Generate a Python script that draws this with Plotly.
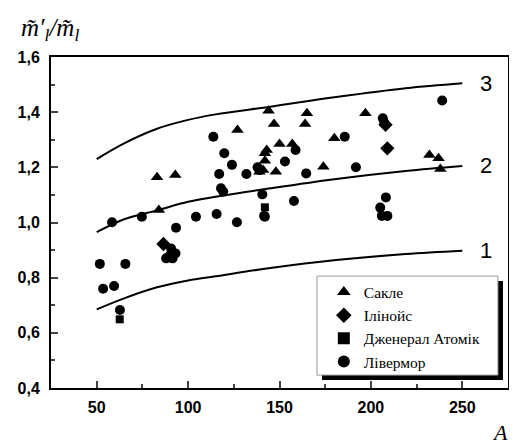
import plotly.graph_objects as go

# ---- data ----
saclay_A = [83, 93, 84, 127, 144, 147, 165, 164, 180, 197, 150, 157, 143, 142, 142, 141, 139, 148, 174, 232, 237, 238]
saclay_v = [1.164, 1.172, 1.045, 1.335, 1.405, 1.357, 1.396, 1.357, 1.305, 1.396, 1.285, 1.285, 1.263, 1.251, 1.224, 1.19, 1.184, 1.184, 1.202, 1.245, 1.233, 1.194]

illinois_A = [208, 209, 86.5]
illinois_v = [1.354, 1.269, 0.922]

ga_A = [62.6, 142]
ga_v = [0.649, 1.055]

livermore_A = [58.4, 74.7, 93.4, 51.7, 65.7, 53.5, 59.5, 62.7, 88, 90.7, 93.1, 90, 91.5,
               104.3, 115.6, 126.7, 142, 157.9, 113.8, 119.8, 124, 117, 131.9, 138, 139,
               153, 158.8, 164.6, 118, 119.2, 140.6, 141.6, 239, 206.5, 207.3, 185.7, 191.8,
               208.2, 205.1, 206, 209]
livermore_v = [1.001, 1.021, 0.981, 0.85, 0.85, 0.76, 0.77, 0.683, 0.87, 0.906, 0.888, 0.88, 0.87,
               1.021, 1.031, 1.001, 1.021, 1.078, 1.311, 1.251, 1.209, 1.176, 1.176, 1.2, 1.19,
               1.221, 1.263, 1.178, 1.124, 1.112, 1.102, 1.024, 1.442, 1.378, 1.362, 1.311, 1.2,
               1.091, 1.054, 1.024, 1.024]

curve_A = [50, 65, 83, 100, 115, 145, 181, 219, 250]
curve3 = [1.230, 1.287, 1.340, 1.372, 1.392, 1.420, 1.455, 1.487, 1.505]
curve2 = [0.965, 1.012, 1.044, 1.075, 1.093, 1.124, 1.158, 1.187, 1.205]
curve1 = [0.685, 0.725, 0.765, 0.790, 0.805, 0.835, 0.864, 0.886, 0.898]
curve_labels = ["3", "2", "1"]

x_ticks = [50, 100, 150, 200, 250]
y_ticks = [0.4, 0.6, 0.8, 1.0, 1.2, 1.4, 1.6]
y_ticktext = ["0,4", "0,6", "0,8", "1,0", "1,2", "1,4", "1,6"]

names = ["Сакле", "Ілінойс", "Дженерал Атомік", "Лівермор"]

SERIF = "Liberation Serif, Times New Roman, serif"
SANS = "Liberation Sans, Arial, sans-serif"

fig = go.Figure()

for cv in (curve3, curve2, curve1):
    fig.add_trace(go.Scatter(x=curve_A, y=cv, mode="lines", line=dict(color="black", width=2, shape="spline"),
                             showlegend=False, hoverinfo="skip"))

fig.add_trace(go.Scatter(x=saclay_A, y=saclay_v, mode="markers", name=names[0],
                         marker=dict(symbol="triangle-up", size=11, color="black")))
fig.add_trace(go.Scatter(x=illinois_A, y=illinois_v, mode="markers", name=names[1],
                         marker=dict(symbol="diamond", size=11, color="black")))
fig.add_trace(go.Scatter(x=ga_A, y=ga_v, mode="markers", name=names[2],
                         marker=dict(symbol="square", size=8, color="black")))
fig.add_trace(go.Scatter(x=livermore_A, y=livermore_v, mode="markers", name=names[3],
                         marker=dict(symbol="circle", size=10, color="black")))

# curve labels
for lab, cv in zip(curve_labels, (curve3, curve2, curve1)):
    fig.add_annotation(x=258.5, y=cv[-1], text=lab, showarrow=False, xanchor="left", yanchor="middle",
                       font=dict(family=SANS, size=22, color="black"))

# axis titles
fig.add_annotation(xref="paper", yref="paper", x=-0.07, y=1.03, xanchor="left", yanchor="bottom",
                   text="<i>m\u0303\u2032<sub>l</sub>/m\u0303<sub>l</sub></i>", showarrow=False,
                   font=dict(family=SERIF, size=25, color="black"))
fig.add_annotation(xref="paper", yref="paper", x=1.004, y=-0.09, xanchor="right", yanchor="top",
                   text="<i>A</i>", showarrow=False,
                   font=dict(family=SERIF, size=22, color="black"))

# legend shadow and box
fig.add_shape(type="rect", xref="paper", yref="paper", x0=0.593, x1=0.989, y0=0.024, y1=0.323,
              fillcolor="black", line=dict(width=0), layer="above")
fig.add_shape(type="rect", xref="paper", yref="paper", x0=0.582, x1=0.978, y0=0.039, y1=0.338,
              fillcolor="white", line=dict(width=1, color="#999999"), layer="above")

# page body has an 8px margin; figure sized so the plot area lands at x 51..510, y 57..388 of the page
fig.update_layout(
    width=509, height=436,
    margin=dict(l=43, r=7, t=49, b=56),
    paper_bgcolor="white", plot_bgcolor="white",
    showlegend=True,
    legend=dict(x=0.597, y=0.34, xanchor="left", yanchor="top", bgcolor="rgba(0,0,0,0)",
                borderwidth=0,
                font=dict(family=SERIF, size=15.5, color="black"),
                itemsizing="constant", tracegroupgap=0),
    xaxis=dict(range=[25, 275], tickvals=x_ticks, ticks="inside", ticklen=7, tickwidth=2,
               showline=True, linecolor="black", linewidth=2, mirror=True, showgrid=False, zeroline=False,
               ticklabelstandoff=4,
               tickfont=dict(family=SANS, size=16, color="black", weight="bold"),
               minor=dict(ticks="inside", ticklen=4, tickwidth=2, dtick=25, tick0=25, showgrid=False)),
    yaxis=dict(range=[0.4, 1.6], tickvals=y_ticks, ticktext=y_ticktext, ticks="inside", ticklen=7, tickwidth=2,
               showline=True, linecolor="black", linewidth=2, mirror=True, showgrid=False, zeroline=False,
               ticklabelstandoff=6,
               tickfont=dict(family=SANS, size=16, color="black", weight="bold"),
               minor=dict(ticks="inside", ticklen=4, tickwidth=2, dtick=0.1, tick0=0.4, showgrid=False)),
)

fig.write_html("out.html")
